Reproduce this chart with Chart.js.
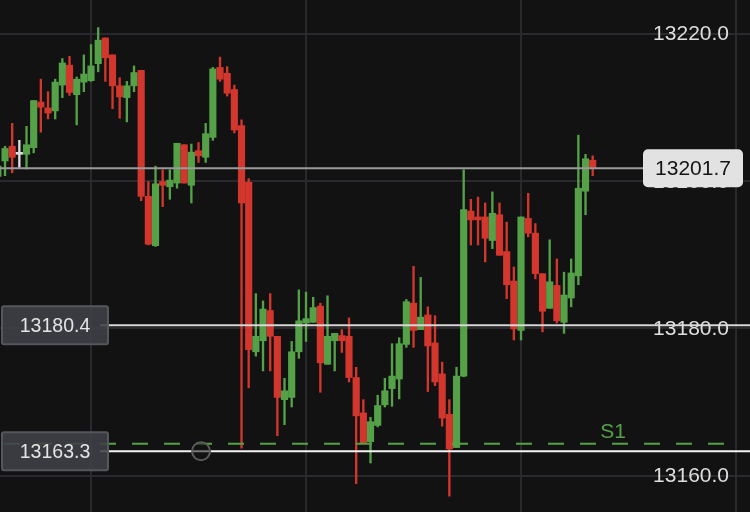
<!DOCTYPE html>
<html>
<head>
<meta charset="utf-8">
<script src="https://cdn.jsdelivr.net/npm/chart.js@4.4.1/dist/chart.umd.min.js"></script>
<style>
  html, body { margin: 0; padding: 0; background: #121212; }
  #wrap { width: 750px; height: 512px; }
</style>
</head>
<body>
<div id="wrap"><canvas id="myChart"></canvas></div>
<script>
// candle data, index -1 is the half hidden bar at the left edge
const firstIndex = -1;
const opens = [13200.6, 13202.7, 13204.7, 13203.6, 13203.6, 13204.5, 13210.7, 13209.9, 13209.5, 13213.0,
  13215.7, 13211.7, 13213.4, 13213.6, 13215.9, 13219.4, 13217.1, 13212.9, 13211.3, 13212.9,
  13215.0, 13197.9, 13191.2, 13199.9, 13199.2, 13199.7, 13204.9, 13199.4, 13204.1, 13203.2,
  13205.9, 13215.4, 13214.6, 13212.4, 13207.5, 13199.8, 13176.8, 13178.3, 13182.4, 13178.9,
  13170.3, 13170.6, 13176.8, 13180.7, 13180.8, 13183.0, 13175.1, 13178.3, 13179.0, 13178.9,
  13173.3, 13168.5, 13164.6, 13166.8, 13169.6, 13171.8, 13173.1, 13177.8, 13183.4, 13179.8,
  13181.8, 13178.0, 13173.8, 13168.3, 13163.8, 13173.5, 13195.9, 13195.1, 13195.1, 13191.9,
  13195.4, 13190.4, 13186.4, 13179.7, 13194.9, 13192.9, 13187.4, 13182.7, 13185.8, 13180.8,
  13184.1, 13187.1, 13198.6, 13202.8];
const highs = [13202.4, 13204.7, 13207.8, 13205.5, 13207.4, 13210.9, 13213.8, 13212.1, 13213.8, 13216.6,
  13216.9, 13214.1, 13217.1, 13218.5, 13220.8, 13219.4, 13217.1, 13214.0, 13213.5, 13215.6,
  13215.0, 13199.9, 13202.0, 13201.5, 13201.5, 13205.1, 13204.9, 13205.0, 13205.2, 13207.8,
  13215.4, 13216.8, 13215.5, 13213.0, 13208.3, 13200.3, 13184.7, 13183.7, 13184.7, 13178.9,
  13173.2, 13178.2, 13185.2, 13184.9, 13184.2, 13183.4, 13184.4, 13179.3, 13179.8, 13181.4,
  13174.7, 13170.3, 13167.9, 13170.9, 13173.2, 13177.9, 13178.7, 13183.9, 13188.4, 13186.9,
  13182.9, 13181.7, 13175.4, 13170.3, 13174.7, 13201.5, 13197.5, 13197.8, 13197.0, 13198.5,
  13197.0, 13194.4, 13188.3, 13195.1, 13198.3, 13194.2, 13187.4, 13192.0, 13189.4, 13187.6,
  13189.4, 13206.2, 13203.6, 13203.4];
const lows = [13199.9, 13200.7, 13201.1, 13201.8, 13201.6, 13203.8, 13206.6, 13208.4, 13208.4, 13211.3,
  13211.6, 13207.6, 13212.1, 13213.5, 13214.8, 13213.5, 13209.8, 13208.5, 13208.0, 13212.1,
  13197.3, 13191.3, 13191.1, 13196.5, 13197.5, 13199.0, 13199.7, 13197.0, 13202.5, 13202.5,
  13205.5, 13213.5, 13211.5, 13206.5, 13163.7, 13171.9, 13176.2, 13174.2, 13174.2, 13165.4,
  13166.9, 13169.3, 13175.9, 13178.2, 13180.8, 13171.3, 13175.1, 13174.2, 13176.7, 13172.7,
  13158.9, 13164.4, 13161.7, 13166.6, 13169.3, 13169.4, 13170.4, 13177.4, 13177.4, 13179.8,
  13171.4, 13172.2, 13166.7, 13157.2, 13163.8, 13173.4, 13191.3, 13191.3, 13189.0, 13190.8,
  13189.9, 13184.0, 13178.4, 13178.4, 13192.4, 13186.7, 13179.5, 13182.7, 13180.7, 13179.3,
  13182.9, 13185.9, 13195.4, 13200.7];
const closes = [13202.0, 13204.4, 13203.2, 13203.6, 13204.9, 13210.9, 13210.0, 13209.2, 13213.4, 13216.0,
  13212.0, 13213.8, 13214.5, 13215.6, 13219.1, 13216.7, 13212.9, 13211.4, 13212.9, 13214.7,
  13197.9, 13191.4, 13199.6, 13199.4, 13200.1, 13205.1, 13199.7, 13203.9, 13203.4, 13206.4,
  13215.2, 13213.8, 13211.9, 13206.9, 13197.0, 13177.1, 13178.9, 13182.6, 13178.9, 13170.6,
  13171.5, 13176.8, 13181.0, 13181.3, 13182.8, 13175.3, 13178.9, 13179.3, 13178.3, 13173.3,
  13168.1, 13164.4, 13167.3, 13169.5, 13171.5, 13173.5, 13177.9, 13183.6, 13179.7, 13181.5,
  13177.6, 13172.7, 13167.8, 13163.6, 13173.5, 13196.1, 13194.7, 13194.7, 13192.2, 13195.6,
  13189.9, 13185.9, 13179.9, 13195.1, 13192.9, 13187.4, 13182.3, 13186.3, 13181.0, 13184.5,
  13187.5, 13199.0, 13203.0, 13201.7];

const yTicks = [13160, 13180, 13200, 13220];
const xGridTicks = [12, 42, 72, 102];
const lastPrice = 13201.7;
const levelLines = [13180.4, 13163.3];
const supportLevel = 13164.3;
const supportLabel = 'S1';
const handleX = 27.35;

const upColor = '#55a148';
const downColor = '#d2362c';
const flatColor = '#dcdcdc';

const candleColor = (i) => closes[i] > opens[i] ? upColor : (closes[i] < opens[i] ? downColor : flatColor);

const wickData = opens.map((o, i) => ({x: firstIndex + i, y: [lows[i], highs[i]]}));
const bodyData = opens.map((o, i) => ({x: firstIndex + i, y: [o, closes[i]]}));

const font = '"Liberation Sans", Arial, sans-serif';

function drawBox(ctx, left, top, w, h, r, fill, stroke, text, color, size) {
    ctx.beginPath();
    ctx.roundRect(left, top, w, h, r);
    ctx.fillStyle = fill;
    ctx.fill();
    if (stroke) {
        ctx.lineWidth = 2;
        ctx.strokeStyle = stroke;
        ctx.stroke();
    }
    ctx.fillStyle = color;
    ctx.font = size + 'px ' + font;
    ctx.textAlign = 'center';
    ctx.textBaseline = 'middle';
    ctx.fillText(text, left + w / 2, top + h / 2 + 1);
}

const overlay = {
    id: 'overlay',
    beforeDraw(chart) {
        const ctx = chart.ctx;
        ctx.save();
        ctx.fillStyle = '#121212';
        ctx.fillRect(0, 0, chart.width, chart.height);
        ctx.restore();
    },
    afterDatasetsDraw(chart) {
        const {ctx, chartArea: a, scales: {x, y}} = chart;
        ctx.save();

        // support line
        const sy = y.getPixelForValue(supportLevel);
        ctx.strokeStyle = upColor;
        ctx.lineWidth = 2;
        ctx.setLineDash([16, 16]);
        ctx.beginPath();
        ctx.moveTo(a.left + 4, sy);
        ctx.lineTo(a.right - 25, sy);
        ctx.stroke();
        ctx.setLineDash([]);
        ctx.fillStyle = upColor;
        ctx.font = '21px ' + font;
        ctx.textAlign = 'right';
        ctx.textBaseline = 'bottom';
        ctx.fillText(supportLabel, a.right - 124, sy - 1);

        // last price line
        const py = y.getPixelForValue(lastPrice);
        ctx.strokeStyle = '#9a9a9a';
        ctx.lineWidth = 2;
        ctx.beginPath();
        ctx.moveTo(a.left, py);
        ctx.lineTo(a.right - 100, py);
        ctx.stroke();

        // level lines
        levelLines.forEach((v, k) => {
            const ly = y.getPixelForValue(v);
            ctx.strokeStyle = k === 0 ? '#d6d6d6' : '#f4f4f4';
            ctx.lineWidth = 2;
            ctx.beginPath();
            ctx.moveTo(a.left + 100, ly);
            ctx.lineTo(a.right, ly);
            ctx.stroke();
        });

        // handle on the lower line
        const hy = y.getPixelForValue(levelLines[1]);
        const hx = x.getPixelForValue(handleX);
        ctx.beginPath();
        ctx.arc(hx, hy, 9, 0, Math.PI * 2);
        ctx.fillStyle = 'rgba(18,18,18,0.55)';
        ctx.fill();
        ctx.lineWidth = 2;
        ctx.strokeStyle = '#5c5c5c';
        ctx.stroke();

        // axis labels
        ctx.fillStyle = '#dedede';
        ctx.font = '21px ' + font;
        ctx.textAlign = 'right';
        ctx.textBaseline = 'middle';
        y.ticks.forEach(t => {
            ctx.fillText(t.value.toFixed(1), a.right - 21, y.getPixelForValue(t.value) + 1);
        });

        // price boxes
        drawBox(ctx, a.right - 107, py - 19, 100, 38, 5, '#e2e2e2', null, lastPrice.toFixed(1), '#141414', 21);
        levelLines.forEach(v => {
            const ly = y.getPixelForValue(v);
            drawBox(ctx, 2, ly - 19, 106, 38, 2, 'rgba(64,64,72,0.88)', '#56565d', v.toFixed(1), '#e4e4e4', 19.5);
        });

        ctx.restore();
    }
};

const ctx = document.getElementById('myChart').getContext('2d');

const myChart = new Chart(ctx, {
    type: 'bar',
    data: {
        datasets: [
            {
                label: 'body',
                data: bodyData,
                backgroundColor: (c) => candleColor(c.dataIndex),
                barThickness: 6.5,
                minBarLength: 2,
                grouped: false,
                order: 0,
            },
            {
                label: 'wick',
                data: wickData,
                backgroundColor: (c) => candleColor(c.dataIndex),
                barThickness: 1.7,
                grouped: false,
                order: 1,
            },
        ],
    },
    options: {
        responsive: true,
        maintainAspectRatio: false,
        animation: false,
        layout: { padding: 0 },
        plugins: {
            legend: { display: false },
            tooltip: { enabled: false },
        },
        scales: {
            x: {
                type: 'linear',
                offset: false,
                min: -0.7,
                max: 103.95,
                afterBuildTicks: (s) => { s.ticks = xGridTicks.map(v => ({value: v})); },
                ticks: { display: false },
                grid: { color: '#2a2a2e', lineWidth: 2, drawTicks: false, offset: false },
                border: { display: false },
            },
            y: {
                position: 'right',
                min: 13155.05,
                max: 13224.55,
                afterBuildTicks: (s) => { s.ticks = yTicks.map(v => ({value: v})); },
                ticks: { display: false },
                grid: { color: '#2a2a2e', lineWidth: 2, drawTicks: false },
                border: { display: false },
            },
        },
    },
    plugins: [overlay],
});
</script>
</body>
</html>
